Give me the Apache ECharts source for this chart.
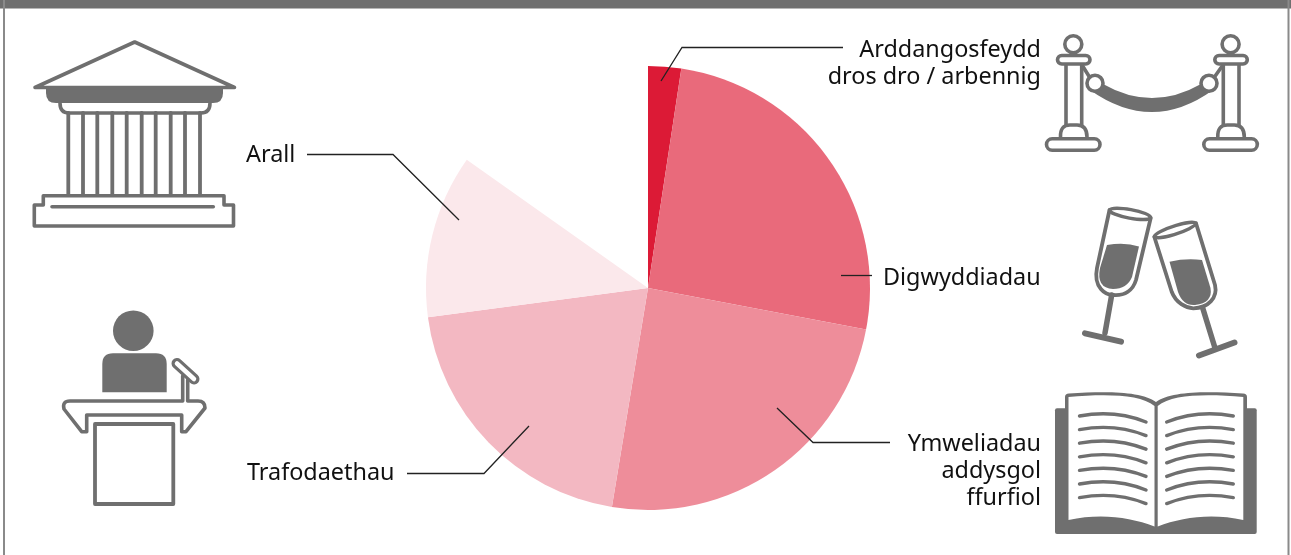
<!DOCTYPE html>
<html>
<head>
<meta charset="utf-8">
<style>
html, body { margin: 0; padding: 0; background: #fff; }
#main { width: 1291px; height: 555px; }
</style>
<script src="https://cdn.jsdelivr.net/npm/echarts@6/dist/echarts.min.js"></script>
</head>
<body>
<div id="main"></div>
<script>
// data, share in percent, clockwise from the top
var categories = ['Arddangosfeydd\ndros dro / arbennig', 'Digwyddiadau', 'Ymweliadau\naddysgol\nffurfiol', 'Trafodaethau', 'Arall'];
var shares = [2.4, 25.6, 24.6, 20.3, 11.9];
var blankShare = 15.2; // the top left wedge is left empty in the original
var colors = ['#dc1a36', '#e96a7b', '#ee8d9a', '#f3b8c2', '#fbe8eb'];

// where each label and its leader sit
var labelSpots = [
    { x: 1041, y: 64, align: 'right', line: [[661, 81], [682, 47.5], [843, 47.5]] },
    { x: 883, y: 278, align: 'left', line: [[841, 275.5], [872, 275.5]] },
    { x: 1041, y: 471, align: 'right', line: [[777, 408], [813, 442.5], [890, 442.5]] },
    { x: 247, y: 473, align: 'left', line: [[529, 426], [484, 473.5], [407, 473.5]] },
    { x: 246, y: 155, align: 'left', line: [[459, 220], [393, 154.5], [307, 154.5]] }
];

var GREY = '#6f6f6f';

function outline(d, w) {
    return { type: 'path', shape: { pathData: d }, style: { fill: 'none', stroke: GREY, lineWidth: w || 3.6, lineCap: 'round', lineJoin: 'round' } };
}
function solid(d) {
    return { type: 'path', shape: { pathData: d }, style: { fill: GREY } };
}
function white(d) {
    return { type: 'path', shape: { pathData: d }, style: { fill: '#fff' } };
}
function ring(cx, cy, r) {
    return { type: 'circle', shape: { cx: cx, cy: cy, r: r }, style: { fill: '#fff', stroke: GREY, lineWidth: 3.6 } };
}
function pill(x, y, w, h) {
    return { type: 'rect', shape: { x: x, y: y, width: w, height: h, r: h / 2 }, style: { fill: '#fff', stroke: GREY, lineWidth: 3.6 } };
}

var icons = [];

// frame
icons.push({ type: 'rect', shape: { x: 0, y: 0, width: 1291, height: 8.5 }, style: { fill: GREY } });
icons.push({ type: 'rect', shape: { x: 3, y: 0, width: 2, height: 555 }, style: { fill: '#8a8a8a' } });
icons.push({ type: 'rect', shape: { x: 1287.5, y: 0, width: 2, height: 555 }, style: { fill: '#8a8a8a' } });

// museum
icons.push(outline('M134.7,42 L35,87.5 L234.5,87.5 Z'));
icons.push(solid('M46,86 H223 V93 Q223,103 213,103 H56 Q46,103 46,93 Z'));
icons.push(outline('M60,103 Q60,113 69,113 H201 Q210,113 210,103'));
[68.3, 83, 97.3, 112.3, 126.7, 141.7, 155.7, 170.7, 185, 200].forEach(function (x) {
    icons.push(outline('M' + x + ',113 V195', 3.8));
});
icons.push(outline('M43.3,205 V195.7 H224 V205 H233.5 V226 H34.3 V205 Z'));
icons.push(outline('M52,206.7 H213.3'));

// speaker at lectern
icons.push({ type: 'circle', shape: { cx: 133.3, cy: 330.7, r: 20.3 }, style: { fill: GREY } });
icons.push(solid('M102.3,392.3 V364 Q102.3,353.3 113,353.3 H156 Q166.7,353.3 166.7,364 V392.3 Z'));
icons.push(outline('M182.7,376 V401 H70 Q62,401 64,409 L81.7,431.7 H86.7 V415 H181.7 V431.7 H186 L205,408 Q205,401 198,401 H187.7 V380'));
icons.push(outline('M177,363.5 L194,379', 11));
icons.push({ type: 'path', shape: { pathData: 'M177,363.5 L194,379' }, style: { fill: 'none', stroke: '#fff', lineWidth: 4.5, lineCap: 'round' } });
icons.push(outline('M95,424 H173.3 V504 H95 Z', 3.8));

// rope barrier
[0, 157.3].forEach(function (dx) {
    icons.push(ring(1073.3 + dx, 44.3, 8.5));
    icons.push(outline('M' + (1066 + dx) + ',64 V125 M' + (1081.7 + dx) + ',64 V125'));
    icons.push(outline('M' + (1060.5 + dx) + ',137 Q' + (1060 + dx) + ',125 ' + (1070 + dx) + ',125 H' + (1077 + dx) + ' Q' + (1087 + dx) + ',125 ' + (1087 + dx) + ',137'));
    icons.push(pill(1057.5 + dx, 55.5, 32.5, 8.5));
    icons.push(pill(1046.5 + dx, 138.8, 53.5, 11.4));
});
icons.push(outline('M1082,65 L1089.3,76.7'));
icons.push(outline('M1221.7,66.7 L1214.3,77.3'));
icons.push(solid('M1103,84 Q1152,112 1201,84 L1213,90 Q1152,134 1090,90 Z'));
icons.push(ring(1095, 83.3, 8));
icons.push(ring(1209, 83.3, 8));

// champagne glasses
icons.push(solid('M1107,245 Q1125,242 1139,246.5 L1132,277 Q1127,289 1113,289 Q1096,288 1100,268 Z'));
icons.push(outline('M1109.5,210 L1097,268 C1093,288 1106,295 1113,295 C1125,296 1133,290 1136,280 L1150.7,218', 3.8));
icons.push(outline('M1109.5,210 A21,4.5 10 0 0 1150.7,217.7 A21,4.5 10 0 0 1109.5,210 Z', 3.4));
icons.push(outline('M1111.7,295 L1105,333', 5.5));
icons.push(outline('M1085,333.3 L1121,341.7', 6));
icons.push(solid('M1169.5,261.7 Q1186,258 1202,260 L1210.5,288 Q1213,303 1195,305 Q1183,306 1178,292 Z'));
icons.push(outline('M1154.3,236.7 L1171.7,291.7 C1176,303 1186,308 1193.3,308.3 C1208,308 1218,298 1215,285 L1196,223.3', 3.8));
icons.push(outline('M1154.3,236.7 A22,4.5 -18 0 1 1196,223.3 A22,4.5 -18 0 1 1154.3,236.7 Z', 3.4));
icons.push(outline('M1202.7,308 L1215,348', 5.5));
icons.push(outline('M1199,355.5 L1234.5,342.5', 6));

// book
icons.push({ type: 'rect', shape: { x: 1055, y: 408.3, width: 201.7, height: 125.7, r: 2 }, style: { fill: GREY } });
icons.push(solid('M1065,410 V397 Q1065,393.5 1069,393.5 C1105,391 1142,391 1156,402 C1170,391 1207,391 1243,393.5 Q1247,393.5 1247,397 V410 Z'));
icons.push(white('M1068.5,397 C1105,394 1140,394 1154.5,406 V526.5 C1130,517 1100,513 1068.5,520 Z'));
icons.push(white('M1157.7,406 C1172,394 1207,394 1243.3,397 V520 C1212,513 1182,517 1157.7,526.5 Z'));
[0, 13.6, 27.2, 40.8, 54.4, 68, 81.6].forEach(function (dy) {
    icons.push(outline('M1079.5,' + (416 + dy) + ' Q1115,' + (409.5 + dy) + ' 1146,' + (422 + dy), 3.4));
    icons.push(outline('M1166.7,' + (422 + dy) + ' Q1198,' + (409.5 + dy) + ' 1233.3,' + (416 + dy), 3.4));
});

var pieData = categories.map(function (name, i) {
    return {
        name: name,
        value: shares[i],
        itemStyle: { color: colors[i] },
        label: { align: labelSpots[i].align }
    };
});
pieData.push({
    name: '',
    value: blankShare,
    itemStyle: { color: 'rgba(0,0,0,0)' },
    label: { show: false }
});

// leaders run over the slices, so they go in graphic above the pie
var leaders = labelSpots.map(function (spot) {
    return {
        type: 'polyline',
        silent: true,
        z: 100,
        shape: { points: spot.line },
        style: { fill: 'none', stroke: '#222', lineWidth: 1.3 }
    };
});

var myChart = echarts.init(document.getElementById('main'));
var option = {
    animation: false,
    graphic: { elements: leaders },
    series: [
        {
            type: 'custom',
            coordinateSystem: 'none',
            silent: true,
            data: [0],
            renderItem: function () {
                return { type: 'group', children: icons };
            }
        },
        {
            type: 'pie',
            center: [648, 288],
            radius: 222,
            startAngle: 90,
            clockwise: true,
            silent: true,
            avoidLabelOverlap: false,
            label: {
                show: true,
                formatter: '{b}',
                color: '#111',
                fontFamily: 'Noto Sans',
                fontSize: 23.4,
                lineHeight: 27
            },
            labelLine: { show: false },
            labelLayout: function (params) {
                var spot = labelSpots[params.dataIndex];
                if (!spot) {
                    return {};
                }
                return {
                    x: spot.x,
                    y: spot.y,
                    align: spot.align,
                    verticalAlign: 'middle'
                };
            },
            data: pieData
        }
    ]
};
myChart.setOption(option);
</script>
</body>
</html>
